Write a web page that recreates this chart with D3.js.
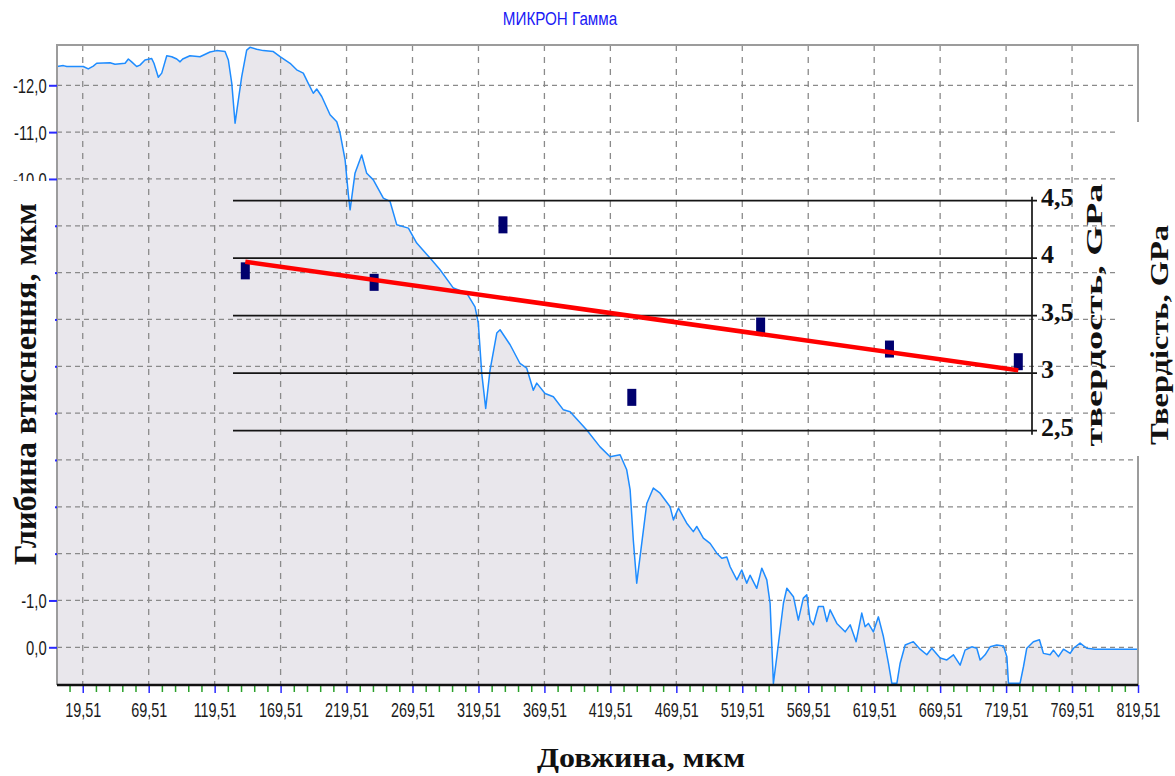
<!DOCTYPE html>
<html>
<head>
<meta charset="utf-8">
<script src="https://cdn.jsdelivr.net/npm/d3@7"></script>
<style>
  body { margin: 0; background: #fff; }
  svg { display: block; }
</style>
</head>
<body>
<svg id="chart" width="1175" height="776"></svg>
<script>
// Surface profile along the scan: [position, µm ; depth, µm]
const profile = [
  [0.0,-12.40],[4.8,-12.42],[7.4,-12.40],[19.9,-12.40],[23.7,-12.35],[27.5,-12.41],[30.1,-12.47],[40.2,-12.48],
  [44.0,-12.45],[51.6,-12.47],[54.1,-12.56],[56.6,-12.50],[60.4,-12.40],[62.9,-12.43],[66.7,-12.54],[71.8,-12.57],
  [73.5,-12.47],[76.8,-12.17],[79.4,-12.26],[83.2,-12.63],[87.0,-12.61],[90.8,-12.56],[93.3,-12.50],[95.3,-12.56],
  [100.8,-12.63],[108.4,-12.61],[116.0,-12.71],[121.1,-12.74],[127.4,-12.72],[129.9,-12.54],[132.5,-12.04],[135.0,-11.19],
  [137.5,-11.69],[140.0,-12.18],[143.8,-12.75],[146.3,-12.81],[151.4,-12.77],[156.4,-12.74],[164.0,-12.72],[169.1,-12.61],
  [176.7,-12.47],[181.7,-12.33],[186.7,-12.26],[190.5,-12.04],[194.3,-11.83],[196.9,-11.92],[200.7,-11.76],[207.0,-11.37],
  [212.1,-11.22],[214.6,-10.98],[218.4,-10.41],[220.9,-9.66],[222.2,-9.34],[225.9,-10.12],[231.0,-10.51],[234.8,-10.12],
  [239.8,-9.98],[247.4,-9.59],[252.5,-9.52],[257.6,-9.02],[266.4,-8.95],[272.7,-8.63],[282.8,-8.31],[290.4,-8.06],
  [300.5,-7.67],[310.6,-7.56],[316.9,-7.27],[319.4,-6.92],[322.0,-5.85],[325.0,-5.10],[328.3,-5.92],[333.4,-6.71],
  [335.9,-6.78],[343.5,-6.46],[351.0,-6.06],[356.1,-5.96],[361.1,-5.49],[363.7,-5.64],[370.0,-5.42],[376.3,-5.35],
  [383.9,-5.07],[389.0,-5.03],[401.6,-4.64],[411.7,-4.28],[419.3,-4.07],[426.9,-4.11],[431.9,-3.79],[434.5,-3.36],
  [436.9,-2.29],[439.5,-1.37],[442.0,-1.93],[447.1,-3.07],[452.1,-3.40],[457.2,-3.29],[464.8,-3.00],[467.3,-2.72],
  [471.1,-2.97],[477.4,-2.65],[482.4,-2.47],[485.0,-2.58],[490.0,-2.33],[495.1,-2.22],[500.2,-2.01],[504.0,-1.90],
  [507.8,-1.93],[510.3,-1.72],[515.4,-1.44],[519.1,-1.65],[522.9,-1.37],[525.4,-1.54],[530.5,-1.26],[534.3,-1.69],
  [538.1,-1.44],[540.6,-0.94],[543.1,0.77],[545.7,0.20],[550.7,-0.94],[553.3,-1.26],[558.3,-1.08],[562.0,-0.58],
  [565.8,-1.05],[568.4,-1.12],[570.9,-0.58],[573.4,-0.48],[577.2,-0.87],[581.0,-0.87],[583.6,-0.55],[586.1,-0.80],
  [591.2,-0.51],[597.5,-0.33],[601.3,-0.48],[605.8,-0.12],[610.1,-0.73],[612.6,-0.44],[615.1,-0.51],[618.9,-0.33],
  [622.7,-0.65],[626.5,-0.23],[630.3,0.34],[632.9,0.77],[636.7,0.77],[639.2,0.34],[643.0,-0.05],[649.2,-0.12],
  [654.3,0.04],[659.4,0.16],[663.2,0.02],[669.5,0.23],[674.6,0.27],[679.6,0.16],[684.7,0.38],[688.4,0.06],
  [693.5,-0.01],[697.3,0.02],[699.8,0.27],[703.6,0.16],[707.4,-0.01],[712.5,-0.05],[717.5,-0.03],[720.1,0.20],
  [721.3,0.77],[730.1,0.77],[732.7,0.41],[735.2,0.02],[740.2,-0.12],[744.8,-0.16],[747.8,0.13],[752.9,0.16],
  [755.4,0.06],[759.2,0.20],[763.0,0.04],[768.1,0.13],[770.6,0.02],[775.6,-0.09],[780.7,0.02],[787.0,0.04],
  [819.5,0.04]
];

// Hardness measured at seven points along the track, GPa
const hardnessPoint = [1, 2, 3, 4, 5, 6, 7];
const hardnessGPa = [3.89, 3.79, 4.29, 2.79, 3.41, 3.21, 3.10];

// Axis ticks
const xMajorTicks = [19.51, 69.51, 119.51, 169.51, 219.51, 269.51, 319.51, 369.51, 419.51,
                     469.51, 519.51, 569.51, 619.51, 669.51, 719.51, 769.51, 819.51];
const depthTicks = [-12, -11, -10, -9, -8, -7, -6, -5, -4, -3, -2, -1, 0];
const depthLabelled = [-12, -11, -10, -1, 0];
const hardnessTicks = [2.5, 3, 3.5, 4, 4.5];
const hardnessLabels = ["2,5", "3", "3,5", "4", "4,5"];

const svg = d3.select("#chart");
const plot = { left: 57, right: 1138, top: 45, bottom: 685 };
const sans = "'Liberation Sans', Arial, sans-serif";
const serif = "'Liberation Serif', 'Times New Roman', serif";

const x = d3.scaleLinear().domain([0, 819.51]).range([plot.left, plot.right]);
const y = d3.scaleLinear().domain([-12.86, 0.805]).range([plot.top, plot.bottom]);
const commaFmt = (f) => (v) => d3.format(f)(v).replace(".", ",").replace("\u2212", "-");

svg.append("rect").attr("width", 1175).attr("height", 776).attr("fill", "#fff");

// --- profile panel ---
const area = d3.area().x(d => x(d[0])).y0(plot.bottom).y1(d => y(d[1]));
svg.append("path").datum(profile).attr("d", area).attr("fill", "#e9e7ec");

const grid = svg.append("g").attr("stroke", "#8a8a8a").attr("stroke-width", 1.3);
grid.selectAll("line.h").data(depthTicks).join("line").attr("class", "h")
  .attr("x1", plot.left).attr("x2", plot.right)
  .attr("y1", d => y(d)).attr("y2", d => y(d))
  .attr("stroke-dasharray", "5,4");
grid.selectAll("line.v").data(xMajorTicks.slice(0, -1)).join("line").attr("class", "v")
  .attr("x1", d => x(d)).attr("x2", d => x(d))
  .attr("y1", plot.top).attr("y2", plot.bottom)
  .attr("stroke-dasharray", "6,6");

const line = d3.line().x(d => x(d[0])).y(d => y(d[1]));
svg.append("path").datum(profile).attr("d", line)
  .attr("fill", "none").attr("stroke", "#1e8cff").attr("stroke-width", 1.5)
  .attr("stroke-linejoin", "round");

// frame
svg.append("path")
  .attr("d", `M${plot.left},${plot.bottom}V${plot.top}H${plot.right}V${plot.bottom}`)
  .attr("fill", "none").attr("stroke", "#9c9c9c").attr("stroke-width", 2);

// x axis: green minor ticks every 10 µm, blue major ticks every 50 µm
const xMinor = d3.range(9.51, 820, 10).filter(v => !xMajorTicks.some(m => Math.abs(m - v) < 1e-6));
const gxMinor = svg.append("g").attr("transform", `translate(0,${plot.bottom})`)
  .call(d3.axisBottom(x).tickValues(xMinor).tickSize(7).tickFormat(""));
gxMinor.select(".domain").remove();
gxMinor.selectAll(".tick line").attr("stroke", "#2aa02a").attr("stroke-width", 1.5);

const gx = svg.append("g").attr("transform", `translate(0,${plot.bottom})`)
  .call(d3.axisBottom(x).tickValues(xMajorTicks).tickSize(8).tickFormat(commaFmt(".2f")));
gx.select(".domain").remove();
gx.selectAll(".tick line").attr("stroke", "#2a2aff").attr("stroke-width", 1.5);
gx.selectAll(".tick text")
  .attr("y", 32).attr("dy", null)
  .attr("transform", "scale(0.72,1)")
  .attr("fill", "#1a1a1a")
  .style("font", `20px ${sans}`);

svg.append("line").attr("x1", plot.left).attr("x2", plot.right)
  .attr("y1", plot.bottom).attr("y2", plot.bottom)
  .attr("stroke", "#111").attr("stroke-width", 2.5);

// y axis (depth)
const gy = svg.append("g").attr("transform", `translate(${plot.left},0)`)
  .call(d3.axisLeft(y).tickValues(depthTicks).tickSize(8).tickPadding(6)
    .tickFormat(v => depthLabelled.includes(v) ? commaFmt(".1f")(v) : ""));
gy.select(".domain").remove();
gy.selectAll(".tick line").attr("stroke", "#2a2aff").attr("stroke-width", 2);
gy.selectAll(".tick text")
  .attr("transform", "scale(0.74,1)")
  .attr("dy", "0.36em")
  .attr("fill", "#1a1a1a")
  .style("font", `20px ${sans}`);

// blank margin on the right, behind the hardness axis title
svg.append("rect").attr("x", 1117).attr("y", 122).attr("width", 58).attr("height", 334).attr("fill", "#fff");

// --- hardness overlay ---
const hx = d3.scaleLinear().domain([1, 7]).range([245.3, 1018.3]);
const hy = d3.scaleLinear().domain([2.5, 4.5]).range([430.7, 200.7]);
const hLeft = 233, hAxis = 1032;

const hg = svg.append("g");
hg.selectAll("line.hg").data(hardnessTicks).join("line").attr("class", "hg")
  .attr("x1", hLeft).attr("x2", hAxis + 5)
  .attr("y1", d => hy(d)).attr("y2", d => hy(d))
  .attr("stroke", "#151515").attr("stroke-width", 1.7);
hg.append("line").attr("x1", hAxis).attr("x2", hAxis)
  .attr("y1", hy(4.5) - 4).attr("y2", hy(2.5) + 4)
  .attr("stroke", "#151515").attr("stroke-width", 1.7);
hg.selectAll("text.hl").data(hardnessTicks).join("text").attr("class", "hl")
  .attr("x", hAxis + 9).attr("y", d => hy(d) + 5)
  .attr("fill", "#111")
  .style("font", `bold 26px ${serif}`)
  .text((d, i) => hardnessLabels[i]);

hg.selectAll("rect.pt").data(hardnessGPa).join("rect").attr("class", "pt")
  .attr("x", (d, i) => hx(hardnessPoint[i]) - 4.5)
  .attr("y", d => hy(d) - 8.5)
  .attr("width", 9).attr("height", 17)
  .attr("fill", "#00006e");

// least-squares trend of hardness along the track
const mx = d3.mean(hardnessPoint), my = d3.mean(hardnessGPa);
const slope = d3.sum(hardnessPoint, (p, i) => (p - mx) * (hardnessGPa[i] - my)) /
              d3.sum(hardnessPoint, p => (p - mx) ** 2);
const trend = p => my + slope * (p - mx);
const p0 = d3.min(hardnessPoint), p1 = d3.max(hardnessPoint);
hg.append("line")
  .attr("x1", hx(p0)).attr("y1", hy(trend(p0)))
  .attr("x2", hx(p1)).attr("y2", hy(trend(p1)))
  .attr("stroke", "#ff0000").attr("stroke-width", 4.5);

hg.append("text")
  .attr("transform", "translate(1102,315) rotate(-90)")
  .attr("text-anchor", "middle")
  .attr("textLength", 263).attr("lengthAdjust", "spacingAndGlyphs")
  .attr("fill", "#111")
  .style("font", `bold 23px ${serif}`)
  .text("твердость, GPa");

// --- titles ---
svg.append("text")
  .attr("transform", "translate(1168,335) rotate(-90)")
  .attr("text-anchor", "middle")
  .attr("textLength", 220).attr("lengthAdjust", "spacingAndGlyphs")
  .attr("fill", "#111")
  .style("font", `bold 26px ${serif}`)
  .text("Твердість, GPa");

svg.append("rect").attr("x", 0).attr("y", 181).attr("width", 55).attr("height", 411).attr("fill", "#fff");
svg.append("text")
  .attr("transform", "translate(35.5,384) rotate(-90)")
  .attr("text-anchor", "middle")
  .attr("textLength", 362).attr("lengthAdjust", "spacingAndGlyphs")
  .attr("fill", "#111")
  .style("font", `bold 32px ${serif}`)
  .text("Глибина втиснення, мкм");

svg.append("text")
  .attr("x", 641).attr("y", 767)
  .attr("text-anchor", "middle")
  .attr("textLength", 208).attr("lengthAdjust", "spacingAndGlyphs")
  .attr("fill", "#111")
  .style("font", `bold 28px ${serif}`)
  .text("Довжина, мкм");

svg.append("text")
  .attr("transform", "translate(560,25) scale(0.8,1)")
  .attr("text-anchor", "middle")
  .attr("fill", "#1a1af5")
  .style("font", `19px ${sans}`)
  .text("МИКРОН Гамма");
</script>
</body>
</html>
